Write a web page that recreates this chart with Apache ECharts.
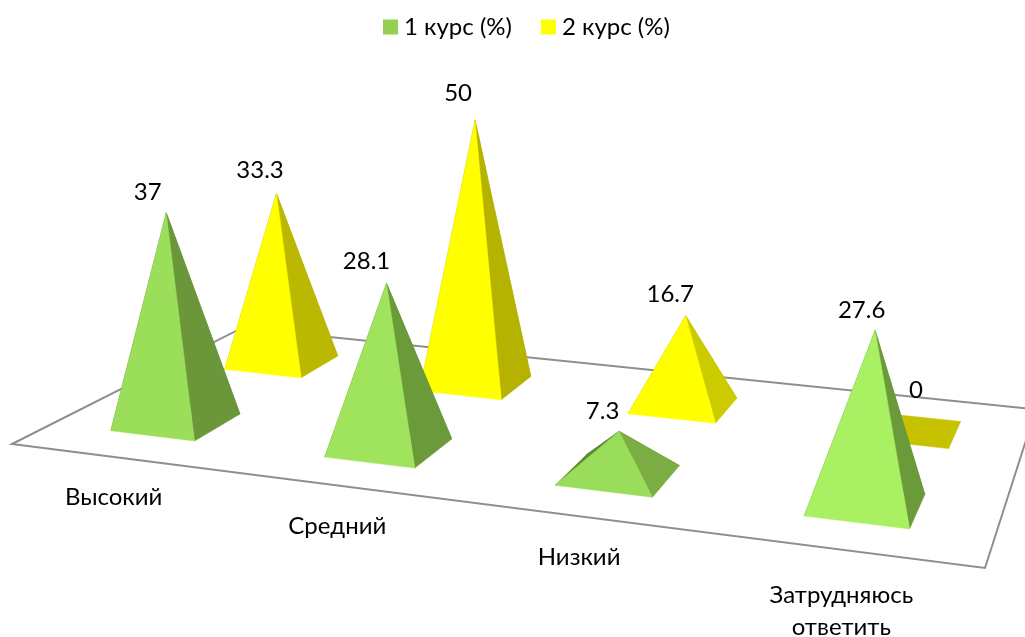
<!DOCTYPE html>
<html>
<head>
<meta charset="utf-8">
<style>
    html, body { margin: 0; padding: 0; background: #fff; }
    #chart { width: 1025px; height: 637px; }
</style>
<script src="https://cdn.jsdelivr.net/npm/echarts@6/dist/echarts.min.js"></script>
</head>
<body>
<div id="chart"></div>
<script>
const categories = ['Высокий', 'Средний', 'Низкий', 'Затрудняюсь\nответить'];
const seriesNames = ['1 курс (%)', '2 курс (%)'];
const course1 = [37, 28.1, 7.3, 27.6];
const course2 = [33.3, 50, 16.7, 0];

const FONT = 'Lato, "Open Sans", sans-serif';

// face colours per category, lit differently like the original 3d render
const faces = [
    {
        front: ['#9bde5a', '#a0e35c', '#99dd5a', '#aaf063'],
        right: ['#6b9639', '#6b9a3b', '#7bad42', '#6b9a3b'],
        left: '#5e8a35'
    },
    {
        front: ['#ffff00', '#ffff00', '#ffff00', '#ffff00'],
        right: ['#bab800', '#b6b300', '#cccb00', '#c6c200'],
        left: '#b6b300'
    }
];

// value label offset from the apex, [dx, dy]
const labelOffsets = [
    [[-18.5, -21], [-20, -22], [-16.5, -20], [-13.5, -20]],
    [[-16.5, -23], [-17, -27], [-15.5, -21], [11, -39]]
];

// floor plane: unit square (u along categories, v into the depth) to screen
const H = { a: 827.8, b: 286.8, c: 12, d: 40.3, e: -39, f: 444, g: -0.1474, h: 0.2349 };

function den(u, v) {
    return H.g * u + H.h * v + 1;
}

function floorPoint(u, v) {
    let w = den(u, v);
    return [(H.a * u + H.b * v + H.c) / w, (H.d * u + H.e * v + H.f) / w];
}

function basePoint(u, v) {
    let p = floorPoint(u, v);
    return [p[0] - 3.5, p[1]];
}

function renderPyramid(params, api) {
    let s = params.seriesIndex;
    let i = api.value(0);
    let val = api.value(1);
    let cs = params.coordSys;
    let top = api.coord([i, val]);
    let u = (top[0] - cs.x) / cs.width;
    let v = (s + 0.5) / 2;
    let du = 0.05, dv = 0.1;

    let fl = basePoint(u - du, v - dv);
    let fr = basePoint(u + du, v - dv);
    let br = basePoint(u + du, v + dv);
    let bl = basePoint(u - du, v + dv);
    let c = basePoint(u, v);

    let height = (cs.y + cs.height - top[1]) / den(u, v);
    height = height / (1 - height * 0.00006);
    let apex = [c[0] + (c[0] - 500) * 0.00015 * height, c[1] - height];

    let col = faces[s];
    let poly = (pts, color) => ({
        type: 'polygon',
        shape: { points: pts },
        style: { fill: color, stroke: color, lineWidth: 0.5 }
    });

    let children;
    if (val > 0) {
        children = [
            poly([bl, br, apex], col.left),
            poly([fl, bl, apex], col.left),
            poly([fr, br, apex], col.right[i]),
            poly([fl, fr, apex], col.front[i])
        ];
    } else {
        // zero height: only the flat base is left
        children = [poly([
            floorPoint(u - du, v - dv),
            floorPoint(u + du, v - dv),
            floorPoint(u + du, v + dv),
            floorPoint(u - du, v + dv)
        ], col.right[i])];
    }

    let off = labelOffsets[s][i];
    children.push({
        type: 'text',
        z2: 10,
        style: {
            text: String(val),
            x: apex[0] + off[0],
            y: apex[1] + off[1],
            align: 'center',
            verticalAlign: 'middle',
            font: '24px ' + FONT,
            fill: '#000'
        }
    });
    return { type: 'group', children: children };
}

function renderFloor(params, api) {
    let pts = [floorPoint(0, 0), floorPoint(1, 0), floorPoint(1, 1), floorPoint(0, 1)];
    return {
        type: 'polygon',
        shape: { points: pts },
        style: { fill: '#fff', stroke: '#8e8e8e', lineWidth: 2 }
    };
}

function renderCategory(params, api) {
    let i = api.value(0);
    let cs = params.coordSys;
    let u = (api.coord([i, 0])[0] - cs.x) / cs.width;
    let p = floorPoint(u, 0);
    // the two-line label hangs a bit lower
    let drop = categories[i].indexOf('\n') >= 0 ? 29 : 24;
    return {
        type: 'text',
        style: {
            text: categories[i],
            x: p[0] - 4,
            y: p[1] + drop,
            align: 'center',
            verticalAlign: 'top',
            font: '24px ' + FONT,
            lineHeight: 32,
            fill: '#000'
        }
    };
}

let myChart = echarts.init(document.querySelector('#chart'));
let option = {
    animation: false,
    backgroundColor: '#fff',
    textStyle: { fontFamily: FONT },
    legend: {
        data: seriesNames,
        top: 10,
        left: 378,
        icon: 'rect',
        itemWidth: 15,
        itemHeight: 15,
        itemGap: 29,
        selectedMode: false,
        textStyle: { fontSize: 24, color: '#000', fontFamily: FONT, padding: [0, 0, 0, 1] }
    },
    grid: { left: 0, top: 0, width: 1025, height: 349 },
    xAxis: { type: 'category', data: categories, show: false },
    yAxis: { type: 'value', min: 0, max: 60, show: false },
    series: [
        {
            name: seriesNames[0],
            type: 'custom',
            z: 4,
            clip: false,
            itemStyle: { color: '#92d050' },
            renderItem: renderPyramid,
            data: course1.map((v, i) => [i, v])
        },
        {
            name: seriesNames[1],
            type: 'custom',
            z: 3,
            clip: false,
            itemStyle: { color: '#ffff00' },
            renderItem: renderPyramid,
            data: course2.map((v, i) => [i, v])
        },
        {
            name: 'floor',
            type: 'custom',
            z: 1,
            silent: true,
            renderItem: renderFloor,
            data: [[0, 0]]
        },
        {
            name: 'categories',
            type: 'custom',
            z: 2,
            silent: true,
            clip: false,
            renderItem: renderCategory,
            data: categories.map((c, i) => [i, 0])
        }
    ]
};
myChart.setOption(option);
</script>
</body>
</html>
